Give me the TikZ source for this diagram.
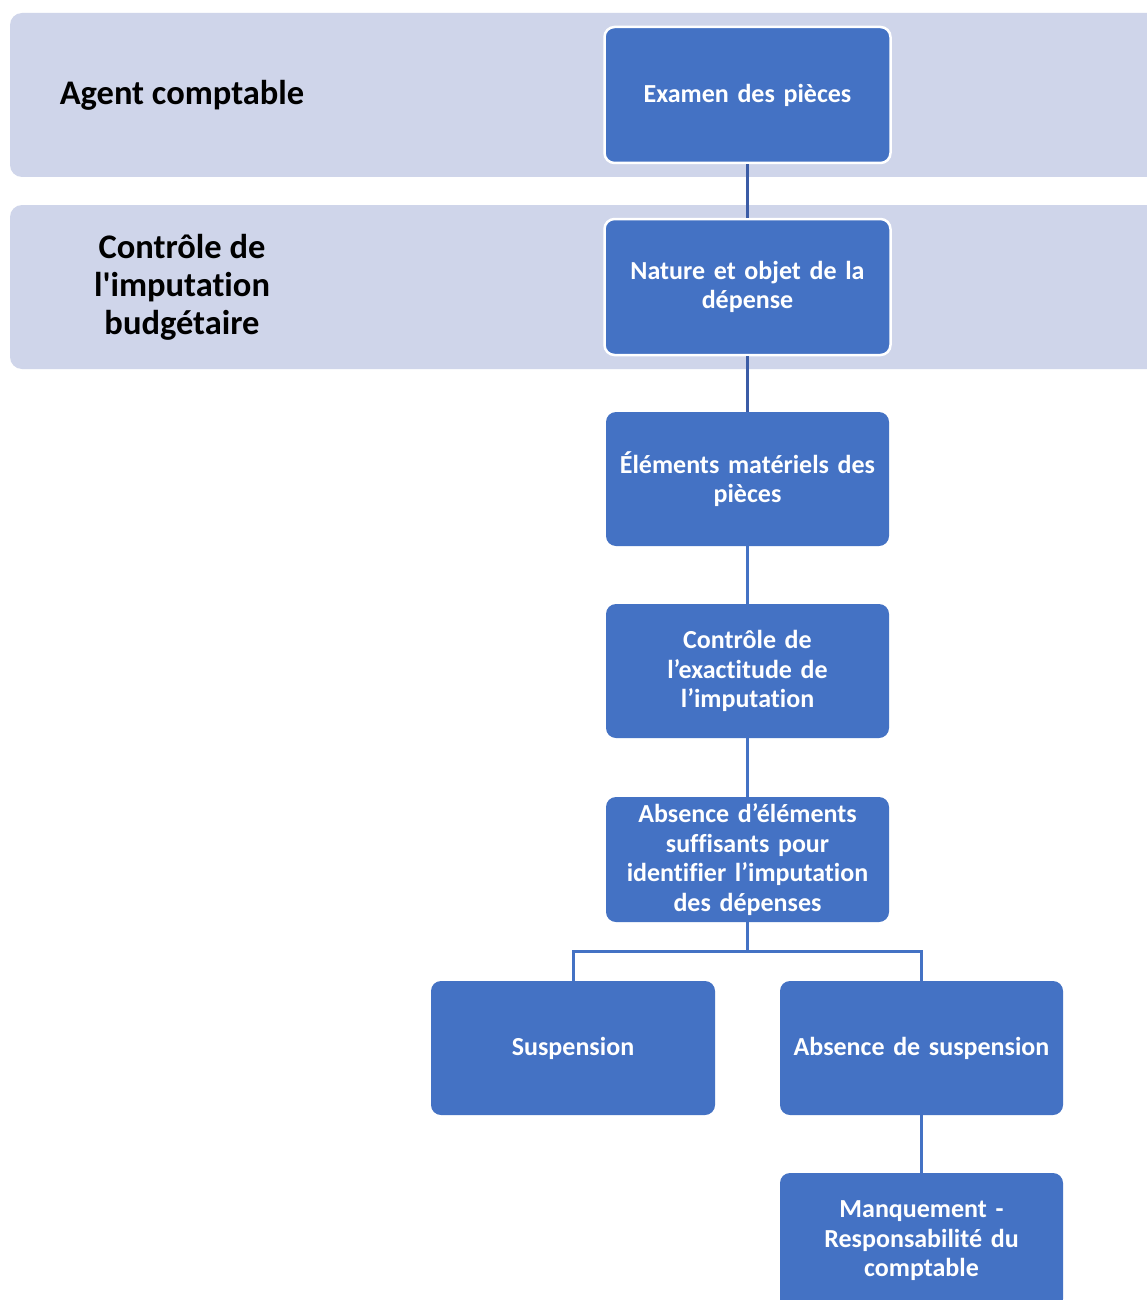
\documentclass[tikz,border=0pt]{standalone}
\usepackage{fontspec}
\setmainfont{Carlito}[Ligatures={TeXOff,CommonOff}]
\definecolor{bandc}{HTML}{CFD5EA}
\definecolor{boxc}{HTML}{4472C4}
\definecolor{linedark}{HTML}{3B5CA6}
\begin{document}
\begin{tikzpicture}[x=1pt,y=-1pt,
  band/.style={fill=bandc,draw=none,rounded corners=12pt},
  bandlabel/.style={font=\fontsize{34.5}{38}\selectfont\bfseries,align=center,text=black},
  stepbox/.style={fill=boxc,draw=none,rounded corners=10pt,minimum width=283pt,minimum height=134pt,
    text width=274pt,align=center,text=white,font=\fontsize{26}{29.5}\selectfont\bfseries,inner sep=0pt},
  topbox/.style={stepbox,draw=white,line width=2.5pt,minimum width=286pt,minimum height=136pt},
  conn/.style={draw=boxc,line width=3pt},
  conndark/.style={draw=linedark,line width=3pt}]
\useasboundingbox (0,0) rectangle (1147,1300);
\fill[white] (0,0) rectangle (1147,1300);
\path[band] (10,13) rectangle (1170,177);
\path[band] (10,205) rectangle (1170,369);
\node[bandlabel] (l1) at (182,95) {Agent comptable};
\node[bandlabel] (l2) at (182,287) {Contrôle de\\l'imputation\\budgétaire};
\node[topbox] (b1) at (747.5,95) {Examen des pièces};
\node[topbox] (b2) at (747.5,287) {Nature et objet de la\\dépense};
\node[stepbox] (b3) at (747.5,479) {Éléments matériels des\\pièces};
\node[stepbox] (b4) at (747.5,671) {Contrôle de\\l’exactitude de\\l’imputation};
\node[stepbox,minimum height=125pt] (b5) at (747.5,859.5) {Absence d’éléments\\suffisants pour\\identifier l’imputation\\des dépenses};
\node[stepbox,minimum width=284pt] (s) at (573,1048) {Suspension};
\node[stepbox] (a) at (921.5,1048) {Absence de suspension};
\node[stepbox,minimum height=136pt] (m) at (921.5,1241) {Manquement -\\Responsabilité du\\comptable};
\draw[conndark] (b1.south) -- (b2.north);
\draw[conndark] (b2.south) -- (b3.north);
\draw[conn] (b3.south) -- (b4.north);
\draw[conn] (b4.south) -- (b5.north);
\draw[conn] (b5.south) -- ++(0,29) coordinate (j);
\draw[conn] (j) -| (s.north);
\draw[conn] (j) -| (a.north);
\draw[conn] (a.south) -- (m.north);
\end{tikzpicture}
\end{document}
